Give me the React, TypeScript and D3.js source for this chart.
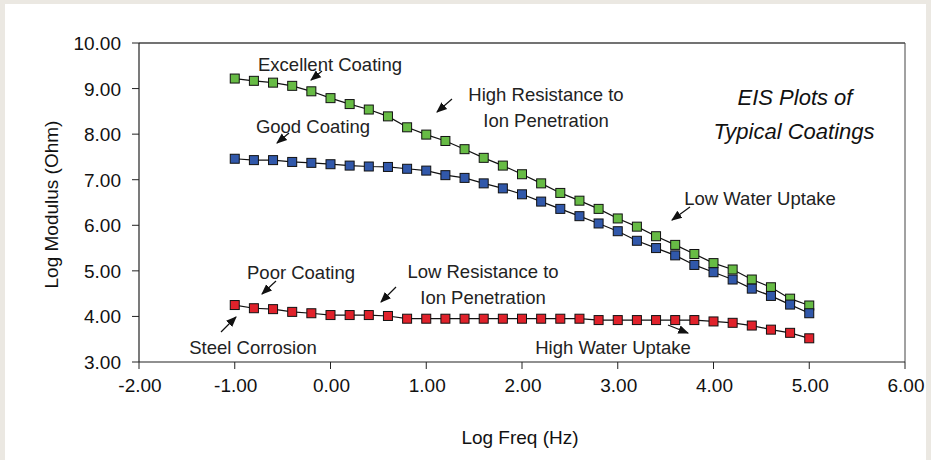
import { scaleLinear, line as d3line } from "d3";

// log frequency (Hz) of each measurement
const freq = [
  -1.0, -0.8, -0.6, -0.4, -0.2, 0.0, 0.2, 0.4, 0.6, 0.8, 1.0, 1.2, 1.4, 1.6, 1.8, 2.0,
  2.2, 2.4, 2.6, 2.8, 3.0, 3.2, 3.4, 3.6, 3.8, 4.0, 4.2, 4.4, 4.6, 4.8, 5.0,
];

// log modulus (Ohm)
const excellent = [
  9.22, 9.17, 9.13, 9.06, 8.94, 8.79, 8.66, 8.54, 8.39, 8.15, 7.99, 7.85, 7.67, 7.48, 7.31, 7.12,
  6.92, 6.71, 6.54, 6.36, 6.15, 5.97, 5.76, 5.57, 5.37, 5.17, 5.03, 4.81, 4.64, 4.39, 4.24,
];
const good = [
  7.46, 7.43, 7.43, 7.39, 7.37, 7.34, 7.31, 7.29, 7.28, 7.24, 7.2, 7.1, 7.04, 6.92, 6.81, 6.68,
  6.52, 6.36, 6.2, 6.04, 5.87, 5.66, 5.5, 5.34, 5.13, 4.97, 4.81, 4.61, 4.45, 4.26, 4.07,
];
const poor = [
  4.25, 4.18, 4.16, 4.1, 4.07, 4.03, 4.03, 4.03, 4.01, 3.95, 3.95, 3.95, 3.95, 3.95, 3.95, 3.95,
  3.95, 3.95, 3.95, 3.92, 3.92, 3.92, 3.92, 3.92, 3.92, 3.89, 3.86, 3.8, 3.71, 3.64, 3.52,
];

const xTicks = [-2, -1, 0, 1, 2, 3, 4, 5, 6];
const yTicks = [3, 4, 5, 6, 7, 8, 9, 10];

const series = [
  { name: "Excellent", values: excellent, color: "#67bb45" },
  { name: "Good", values: good, color: "#3158aa" },
  { name: "Poor", values: poor, color: "#e0222b" },
];

// callouts: label lines, centre x / baseline y, arrow tail -> head
const notes = [
  { lines: ["Excellent Coating"], x: 330, y: 71, arrow: [322, 71, 311, 80] },
  { lines: ["Good Coating"], x: 313, y: 133, arrow: [289, 133, 277, 143] },
  { lines: ["High Resistance to", "Ion Penetration"], x: 546, y: 101, arrow: [452, 99, 437, 112] },
  { lines: ["Low Water Uptake"], x: 760, y: 205, arrow: [690, 207, 672, 220] },
  { lines: ["Poor Coating"], x: 301, y: 279, arrow: [276, 281, 262, 294] },
  { lines: ["Low Resistance to", "Ion Penetration"], x: 483, y: 278, arrow: [396, 287, 381, 302] },
  { lines: ["Steel Corrosion"], x: 253, y: 354, arrow: [221, 332, 236, 317] },
  { lines: ["High Water Uptake"], x: 613, y: 354, arrow: [668, 325, 688, 333] },
];

const W = 931;
const H = 460;
const left = 139;
const right = 905;
const top = 43;
const bottom = 362;
const font = "'Liberation Sans', Arial, sans-serif";

export default function App() {
  const x = scaleLinear().domain([-2, 6]).range([left, right]);
  const y = scaleLinear().domain([3, 10]).range([bottom, top]);

  const path = d3line<number>()
    .x((_, i) => x(freq[i]))
    .y((d) => y(d));

  const ms = 9;

  return (
    <svg
      width={W}
      height={H}
      style={{ position: "absolute", left: 0, top: 0 }}
      fontFamily={font}
    >
      <defs>
        <marker id="head" viewBox="0 0 10 10" refX="9" refY="5" markerWidth="9" markerHeight="9" orient="auto">
          <path d="M0,1 L10,5 L0,9 Z" fill="#111" />
        </marker>
      </defs>
      <rect width={W} height={H} fill="#ebe8e2" />
      <rect x={5} y={4} width={921} height={H - 4} fill="#fff" />

      {/* frame */}
      <line x1={left} x2={right} y1={top} y2={top} stroke="#444" strokeWidth={1.5} />
      <line x1={right} x2={right} y1={top} y2={bottom} stroke="#444" strokeWidth={1} />
      <line x1={left} x2={left} y1={top} y2={bottom} stroke="#222" strokeWidth={1.2} />
      <line x1={left} x2={right} y1={bottom} y2={bottom} stroke="#222" strokeWidth={1.2} />

      {/* y axis */}
      {yTicks.map((t) => (
        <g key={"y" + t}>
          <line x1={left - 7} x2={left} y1={y(t)} y2={y(t)} stroke="#222" />
          <text x={121} y={y(t) + 7} textAnchor="end" fontSize={19} fill="#111">
            {t.toFixed(2)}
          </text>
        </g>
      ))}
      {/* x axis */}
      {xTicks.map((t) => (
        <g key={"x" + t}>
          <line x1={x(t)} x2={x(t)} y1={bottom} y2={bottom + 7} stroke="#222" />
          <text x={x(t) + 1} y={392} textAnchor="middle" fontSize={19} fill="#111">
            {t.toFixed(2)}
          </text>
        </g>
      ))}

      <text x={520} y={444} textAnchor="middle" fontSize={19} fill="#111">
        Log Freq (Hz)
      </text>
      <text
        transform={`translate(58,${(top + bottom) / 2 + 2}) rotate(-90)`}
        textAnchor="middle"
        fontSize={19}
        fill="#111"
      >
        Log Modulus (Ohm)
      </text>

      {/* series */}
      {series.map((s) => (
        <g key={s.name}>
          <path d={path(s.values) ?? undefined} fill="none" stroke="#111" strokeWidth={1.2} />
          {s.values.map((v, i) => (
            <rect
              key={i}
              x={x(freq[i]) - ms / 2}
              y={y(v) - ms / 2}
              width={ms}
              height={ms}
              fill={s.color}
              stroke="#111"
              strokeWidth={1}
            />
          ))}
        </g>
      ))}

      {/* callouts */}
      {notes.map((n, i) => (
        <g key={"n" + i}>
          {n.lines.map((l, j) => (
            <text key={j} x={n.x} y={n.y + j * 26} textAnchor="middle" fontSize={18.5} fill="#222">
              {l}
            </text>
          ))}
          <line
            x1={n.arrow[0]}
            y1={n.arrow[1]}
            x2={n.arrow[2]}
            y2={n.arrow[3]}
            stroke="#111"
            strokeWidth={1.2}
            markerEnd="url(#head)"
          />
        </g>
      ))}

      <text x={795} y={105} textAnchor="middle" fontSize={22} fontStyle="italic" fill="#111">
        EIS Plots of
      </text>
      <text x={794} y={139} textAnchor="middle" fontSize={22} fontStyle="italic" fill="#111">
        Typical Coatings
      </text>
    </svg>
  );
}
